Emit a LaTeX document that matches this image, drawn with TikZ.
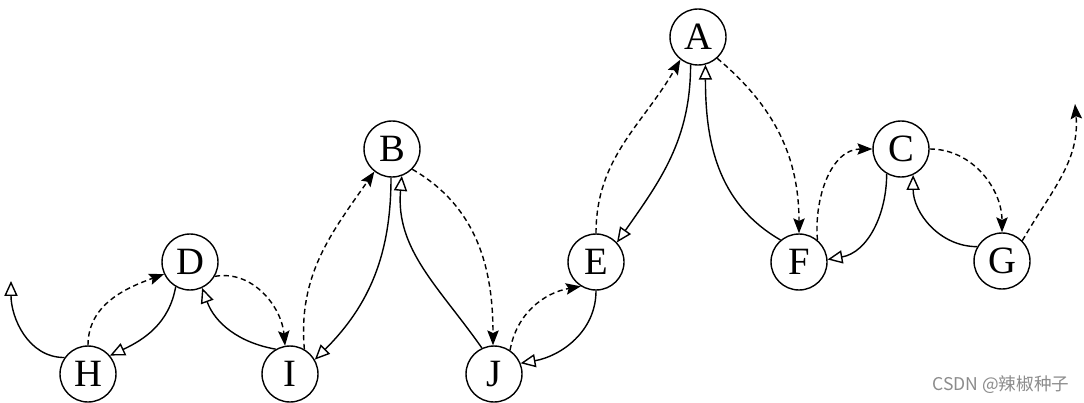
\documentclass[tikz,border=0pt]{standalone}
\usepackage{fontspec}
\setmainfont{Liberation Serif}
\newfontfamily\cjkfont{Noto Sans CJK SC}
\usetikzlibrary{arrows.meta}
\begin{document}
\begin{tikzpicture}[x=0.02cm,y=-0.02cm,
  st/.style={circle, draw, line width=0.8pt, minimum size=1.12cm, inner sep=0pt, font=\fontsize{22}{22}\selectfont},
  solidedge/.style={line width=0.8pt, -{Triangle[open, length=8.5pt, width=7.5pt, fill=white]}},
  dashedge/.style={line width=0.8pt, dash pattern=on 3pt off 2pt, -{Stealth[length=8.5pt, width=6.5pt, inset=1.5pt]}}]
\useasboundingbox[fill=white] (0,0) rectangle (1084,402);
\node[st] (A) at (698,37) {A};
\node[st] (B) at (392,149) {B};
\node[st] (C) at (901,149) {C};
\node[st] (D) at (190,262) {D};
\node[st] (E) at (596,262) {E};
\node[st] (F) at (799,262) {F};
\node[st] (G) at (1002,261) {G};
\node[st] (H) at (88,374) {H};
\node[st] (I) at (290,374) {I};
\node[st] (J) at (494,374) {J};
\coordinate (ftl) at (11,281);
\coordinate (ftr) at (1075,104);
\draw[solidedge] (H.145) to[out=180,in=-90] (ftl);
\draw[dashedge] (H.90) to[out=90,in=200] (D.205);
\draw[solidedge] (D.240) to[out=260,in=25] (H.40);
\draw[dashedge] (D.330) to[out=10,in=95] (I.100);
\draw[solidedge] (I.120) to[out=170,in=-70] (D.295);
\draw[dashedge] (I.60) to[out=95,in=235] (B.232);
\draw[solidedge] (B.268) to[out=270,in=45] (I.30);
\draw[dashedge] (B.315) to[out=-30,in=90] (J.92);
\draw[solidedge] (J.115) to[out=125,in=-95] (B.290);
\draw[dashedge] (J.56) to[out=80,in=190] (E.238);
\draw[solidedge] (E.270) to[out=270,in=10] (J.22);
\draw[dashedge] (E.90) to[out=90,in=240] (A.232);
\draw[solidedge] (A.255) to[out=270,in=55] (E.43);
\draw[dashedge] (A.312) to[out=-40,in=90] (F.90);
\draw[solidedge] (F.130) to[out=150,in=-90] (A.285);
\draw[dashedge] (F.50) to[out=95,in=180] (C.180);
\draw[solidedge] (C.240) to[out=270,in=10] (F.5);
\draw[dashedge] (C.0) to[out=0,in=90] (G.90);
\draw[solidedge] (G.150) to[out=180,in=-90] (C.295);
\draw[dashedge] (G.45) to[out=60,in=-85] (ftr);
\node[text=black!45, font=\cjkfont\fontsize{10}{10}\selectfont, anchor=west, inner sep=0pt] (wm) at (932,385) {CSDN @辣椒种子};
\end{tikzpicture}
\end{document}
